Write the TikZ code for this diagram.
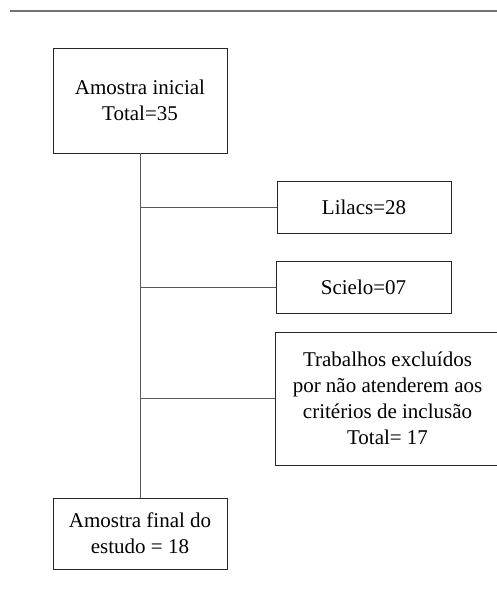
\documentclass[tikz,border=0pt]{standalone}
\usepackage{fontspec}
\setmainfont{Liberation Serif}
\begin{document}
\begin{tikzpicture}[x=1pt,y=-1pt,
  box/.style={draw=black!85, line width=0.9pt, align=center,
    font=\fontsize{21}{26}\selectfont, inner sep=0pt, outer sep=0pt},
  link/.style={draw=black!65, line width=1pt},
  rule/.style={draw=black!55, line width=1.4pt}]
\useasboundingbox (0,0) rectangle (497,591);
\clip (0,0) rectangle (497,591);
\coordinate (r1) at (10,11);
\coordinate (r2) at (497,11);
\draw[rule] (r1) -- (r2);
\node[box, minimum width=174pt, minimum height=105pt] (b1) at (140,100.5) {Amostra inicial\\Total=35};
\node[box, minimum width=174pt, minimum height=52pt] (lil) at (364,207) {Lilacs=28};
\node[box, minimum width=175pt, minimum height=52pt] (sci) at (363.5,287) {Scielo=07};
\node[box, minimum width=225pt, minimum height=133pt] (trab) at (387.5,398.5) {Trabalhos excluídos\\por não atenderem aos\\critérios de inclusão\\Total= 17};
\node[box, minimum width=174pt, minimum height=71pt] (fin) at (140,533.5) {Amostra final do\\estudo = 18};
\draw[link] (b1.south) -- (fin.north);
\draw[link] (b1.south |- lil.west) -- (lil.west);
\draw[link] (b1.south |- sci.west) -- (sci.west);
\draw[link] (b1.south |- trab.west) -- (trab.west);
\end{tikzpicture}
\end{document}
